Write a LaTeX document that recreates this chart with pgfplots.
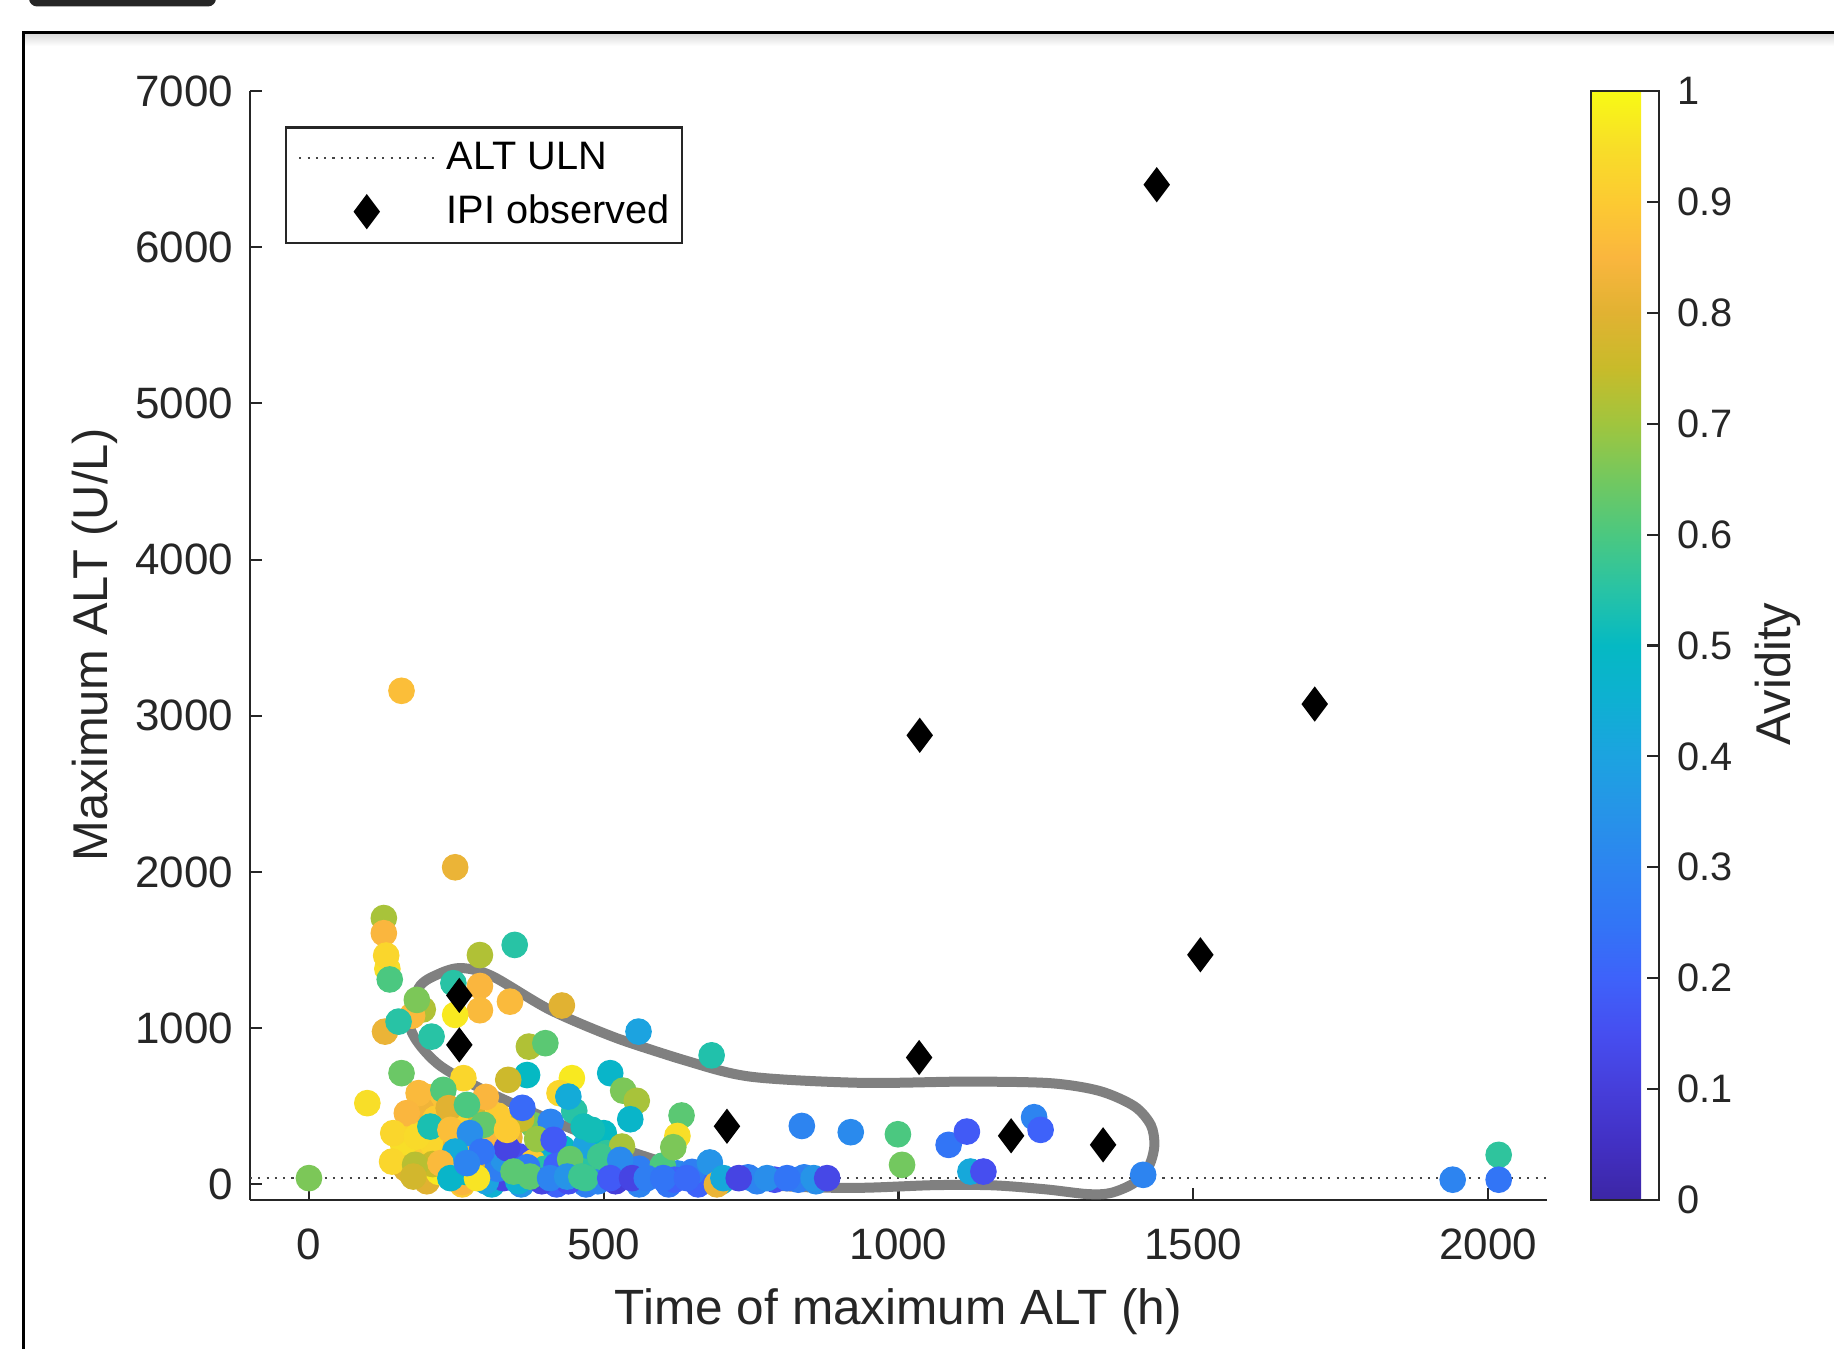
\documentclass[border=0pt]{standalone}
\usepackage{pgfplots}
\pgfplotsset{compat=1.18}
\usepackage{fontspec}
\setmainfont{Liberation Sans}
\definecolor{axcol}{RGB}{38,38,38}
\definecolor{loopgray}{RGB}{128,128,128}
\definecolor{ulngray}{RGB}{70,70,70}
\pgfplotsset{
  ulnlegend/.style={legend image code/.code={\draw[#1] (0cm,0cm) -- (1.35cm,0cm);}},
  ipilegend/.style={legend image code/.code={\path[draw=none] (0cm,0cm) -- (1.35cm,0cm); \draw[#1] plot[only marks] coordinates {(0.675cm,0cm)};}},
}
\begin{document}
\begin{tikzpicture}
% page frame
\fill[black!85, rounded corners=0.08cm] (0.29,13.75) rectangle (2.16,13.425);
\shade[top color=black!14, bottom color=white] (0.245,13.15) rectangle (18.34,13.03);
\draw[black, line width=0.85pt] (0.234,-0.1) -- (0.234,13.165) -- (18.5,13.165);
\begin{axis}[
  at={(2.50cm,1.49cm)}, anchor=south west,
  scale only axis, width=12.97cm, height=11.09cm,
  xmin=-100, xmax=2100, ymin=-100, ymax=7000,
  axis lines=left,
  axis line style={-, color=axcol, line width=0.6pt},
  every outer x axis line/.append style={-},
  every outer y axis line/.append style={-},
  tick align=inside, major tick length=0.12cm,
  tick style={color=axcol, line width=0.6pt},
  xtick={0,500,1000,1500,2000},
  ytick={0,1000,2000,3000,4000,5000,6000,7000},
  scaled ticks=false,
  /pgf/number format/1000 sep={},
  /pgf/number format/assume math mode=true,
  ticklabel style={font=\fontsize{12.5}{14}\selectfont, text=axcol},
  x tick label style={yshift=-0.16cm},
  y tick label style={xshift=-0.044cm},
  xlabel={Time of maximum ALT (h)},
  ylabel={Maximum ALT (U/L)},
  every axis x label/.style={at={(axis description cs:0.5,-0.1127)}, anchor=base, font=\fontsize{14.1}{16}\selectfont, text=axcol},
  every axis y label/.style={at={(axis description cs:-0.1099,0.501)}, anchor=base, rotate=90, font=\fontsize{13.9}{16}\selectfont, text=axcol},
  colormap={parulaish}{rgb255=(60,38,165) rgb255=(66,48,195) rgb255=(70,62,218) rgb255=(70,78,240) rgb255=(62,98,250) rgb255=(50,117,246) rgb255=(45,132,240) rgb255=(38,148,232) rgb255=(28,163,224) rgb255=(14,176,210) rgb255=(5,185,195) rgb255=(40,195,165) rgb255=(75,200,128) rgb255=(115,200,95) rgb255=(160,197,62) rgb255=(200,187,42) rgb255=(225,178,50) rgb255=(250,182,62) rgb255=(252,202,50) rgb255=(248,222,40) rgb255=(248,250,20)},
  point meta min=0, point meta max=1,
  colorbar,
  colorbar style={
    at={(parent axis.north east)}, anchor=north west, xshift=0.14cm,
    scale only axis, width=0.68cm, height=11.09cm,
    axis lines=box,
    ymin=0, ymax=1,
    ytick={0,0.1,0.2,0.3,0.4,0.5,0.6,0.7,0.8,0.9,1},
    ytick pos=right,
    tick align=inside, major tick length=0.12cm,
    tick style={color=axcol, line width=0.6pt},
    axis line style={color=axcol, line width=0.6pt},
    /pgf/number format/assume math mode=true,
    yticklabel style={font=\fontsize{11.3}{13}\selectfont, text=axcol, xshift=0.062cm},
    ylabel={Avidity},
    every axis y label/.style={at={(axis description cs:2.94,0.474)}, anchor=base, rotate=90, font=\fontsize{13.9}{16}\selectfont, text=axcol},
  },
  legend style={
    at={(axis description cs:0.0271,0.968)}, anchor=north west,
    draw=axcol, line width=0.6pt, fill=white,
    font=\fontsize{11.3}{13}\selectfont, text=black,
    inner xsep=0.12cm, inner ysep=0.145cm,
    row sep=0.2cm, column sep=0.115cm,
    nodes={inner sep=0pt},
  },
  legend cell align=left,
]
\addplot[scatter, only marks, mark=*, mark size=0.128cm, scatter src=explicit,
  scatter/use mapped color={draw=mapped color, fill=mapped color},
  mark options={line width=0.3pt}, forget plot]
  table[x=x, y=y, meta=c] {
x y c
300 60 0.30
350 60 0.20
430 70 0.25
470 90 0.35
510 60 0.22
545 70 0.40
585 60 0.30
625 70 0.32
660 40 0.18
745 45 0.28
790 30 0.15
840 45 0.30
320 200 0.70
270 270 0.88
230 200 0.95
200 300 0.85
180 400 0.92
280 430 0.78
400 200 0.45
430 230 0.50
380 380 0.65
340 300 0.82
260 0 0.90
310 0 0.45
360 0 0.35
420 0 0.20
470 0 0.28
560 0 0.30
610 0 0.25
660 0 0.20
200 560 0.88
190 480 0.83
290 300 0.92
320 270 0.85
355 180 0.15
310 150 0.80
380 140 0.90
400 100 0.55
420 120 0.20
330 40 0.12
355 20 0.45
300 20 0.40
260 15 0.85
200 20 0.80
220 80 0.97
190 200 0.90
160 250 0.95
210 260 0.93
250 260 0.82
265 80 0.50
320 100 0.28
455 110 0.55
440 20 0.15
490 20 0.30
530 80 0.50
560 100 0.28
600 120 0.60
650 80 0.28
620 30 0.20
700 20 0.45
760 20 0.30
830 30 0.28
860 20 0.33
520 20 0.10
395 20 0.12
370 110 0.27
330 160 0.35
210 130 0.75
165 100 0.80
360 420 0.75
320 440 0.90
300 560 0.85
215 420 0.90
250 380 0.92
410 400 0.30
470 250 0.40
450 470 0.55
193 1120 0.72
175 1080 0.86
183 1181 0.66
133 1380 0.95
262 680 0.93
157 3160 0.87
248 2030 0.82
127 1705 0.71
127 1608 0.85
131 1465 0.93
137 1312 0.60
290 1468 0.72
349 1533 0.55
245 1288 0.55
290 1270 0.85
290 1115 0.86
341 1170 0.86
429 1145 0.80
248 1085 0.97
208 946 0.55
129 978 0.82
152 1042 0.55
373 882 0.72
401 904 0.62
559 978 0.40
683 826 0.54
511 712 0.48
533 600 0.66
556 535 0.71
545 417 0.48
632 441 0.62
625 310 0.95
618 238 0.66
370 700 0.50
338 669 0.76
446 680 0.97
425 584 0.93
440 562 0.43
157 712 0.64
99 520 0.95
466 370 0.52
500 328 0.50
362 490 0.22
336 232 0.12
387 290 0.69
415 285 0.18
443 162 0.63
505 200 0.56
531 242 0.71
680 140 0.35
836 374 0.30
919 334 0.32
999 321 0.60
1006 125 0.65
1085 253 0.25
1116 338 0.18
1122 82 0.42
1144 82 0.15
1230 430 0.30
1241 349 0.20
1415 61 0.30
1940 30 0.30
2018 189 0.56
2018 30 0.25
0 40 0.66
186 584 0.86
228 605 0.61
166 456 0.85
237 488 0.80
268 509 0.60
296 381 0.63
143 328 0.93
183 306 0.94
206 370 0.53
240 349 0.87
273 328 0.33
293 210 0.25
248 210 0.43
336 349 0.90
141 146 0.93
180 125 0.73
223 136 0.86
240 40 0.48
285 40 0.96
268 136 0.30
347 82 0.62
375 50 0.62
409 40 0.30
438 50 0.35
462 50 0.58
177 50 0.77
480 349 0.52
494 178 0.58
528 157 0.32
469 40 0.58
511 40 0.18
548 40 0.12
573 40 0.28
601 40 0.25
641 40 0.22
692 0 0.82
703 40 0.42
729 40 0.12
777 40 0.33
811 40 0.25
856 40 0.35
879 40 0.13
};
\addplot[color=ulngray, line width=0.6pt, dash pattern=on 0.6pt off 1.76pt, ulnlegend]
  coordinates {(-100,43) (2100,43)};
\addlegendentry{ALT ULN}
\addplot[only marks, mark=diamond*, mark size=0.165cm, color=black, mark options={line width=0.4pt, fill=black}, ipilegend]
  coordinates {(1438,6400) (1706,3075) (1036,2875) (1512,1470) (1035,812) (255,1210) (255,893) (709,372) (1191,311) (1347,253)};
\addlegendentry{IPI observed}
\addplot[smooth, color=loopgray, line width=0.1cm, forget plot] coordinates {
(522,936) (635,797) (748,690) (936,650) (1114,658) (1257,648) (1341,598) (1400,500) (1428,380) (1434,250) (1425,120) (1400,10) (1360,-55) (1320,-62) (1250,-32) (1160,-6) (1060,-5) (936,-22) (817,-14) (697,29) (579,168) (522,242) (409,413) (296,605) (217,776) (172,1000) (186,1257) (220,1347) (258,1385) (310,1335) (409,1117) (522,936) (635,797)};
\end{axis}
\pgfresetboundingbox
\path[use as bounding box] (0,0) rectangle (18.34,13.49);
\end{tikzpicture}
\end{document}
